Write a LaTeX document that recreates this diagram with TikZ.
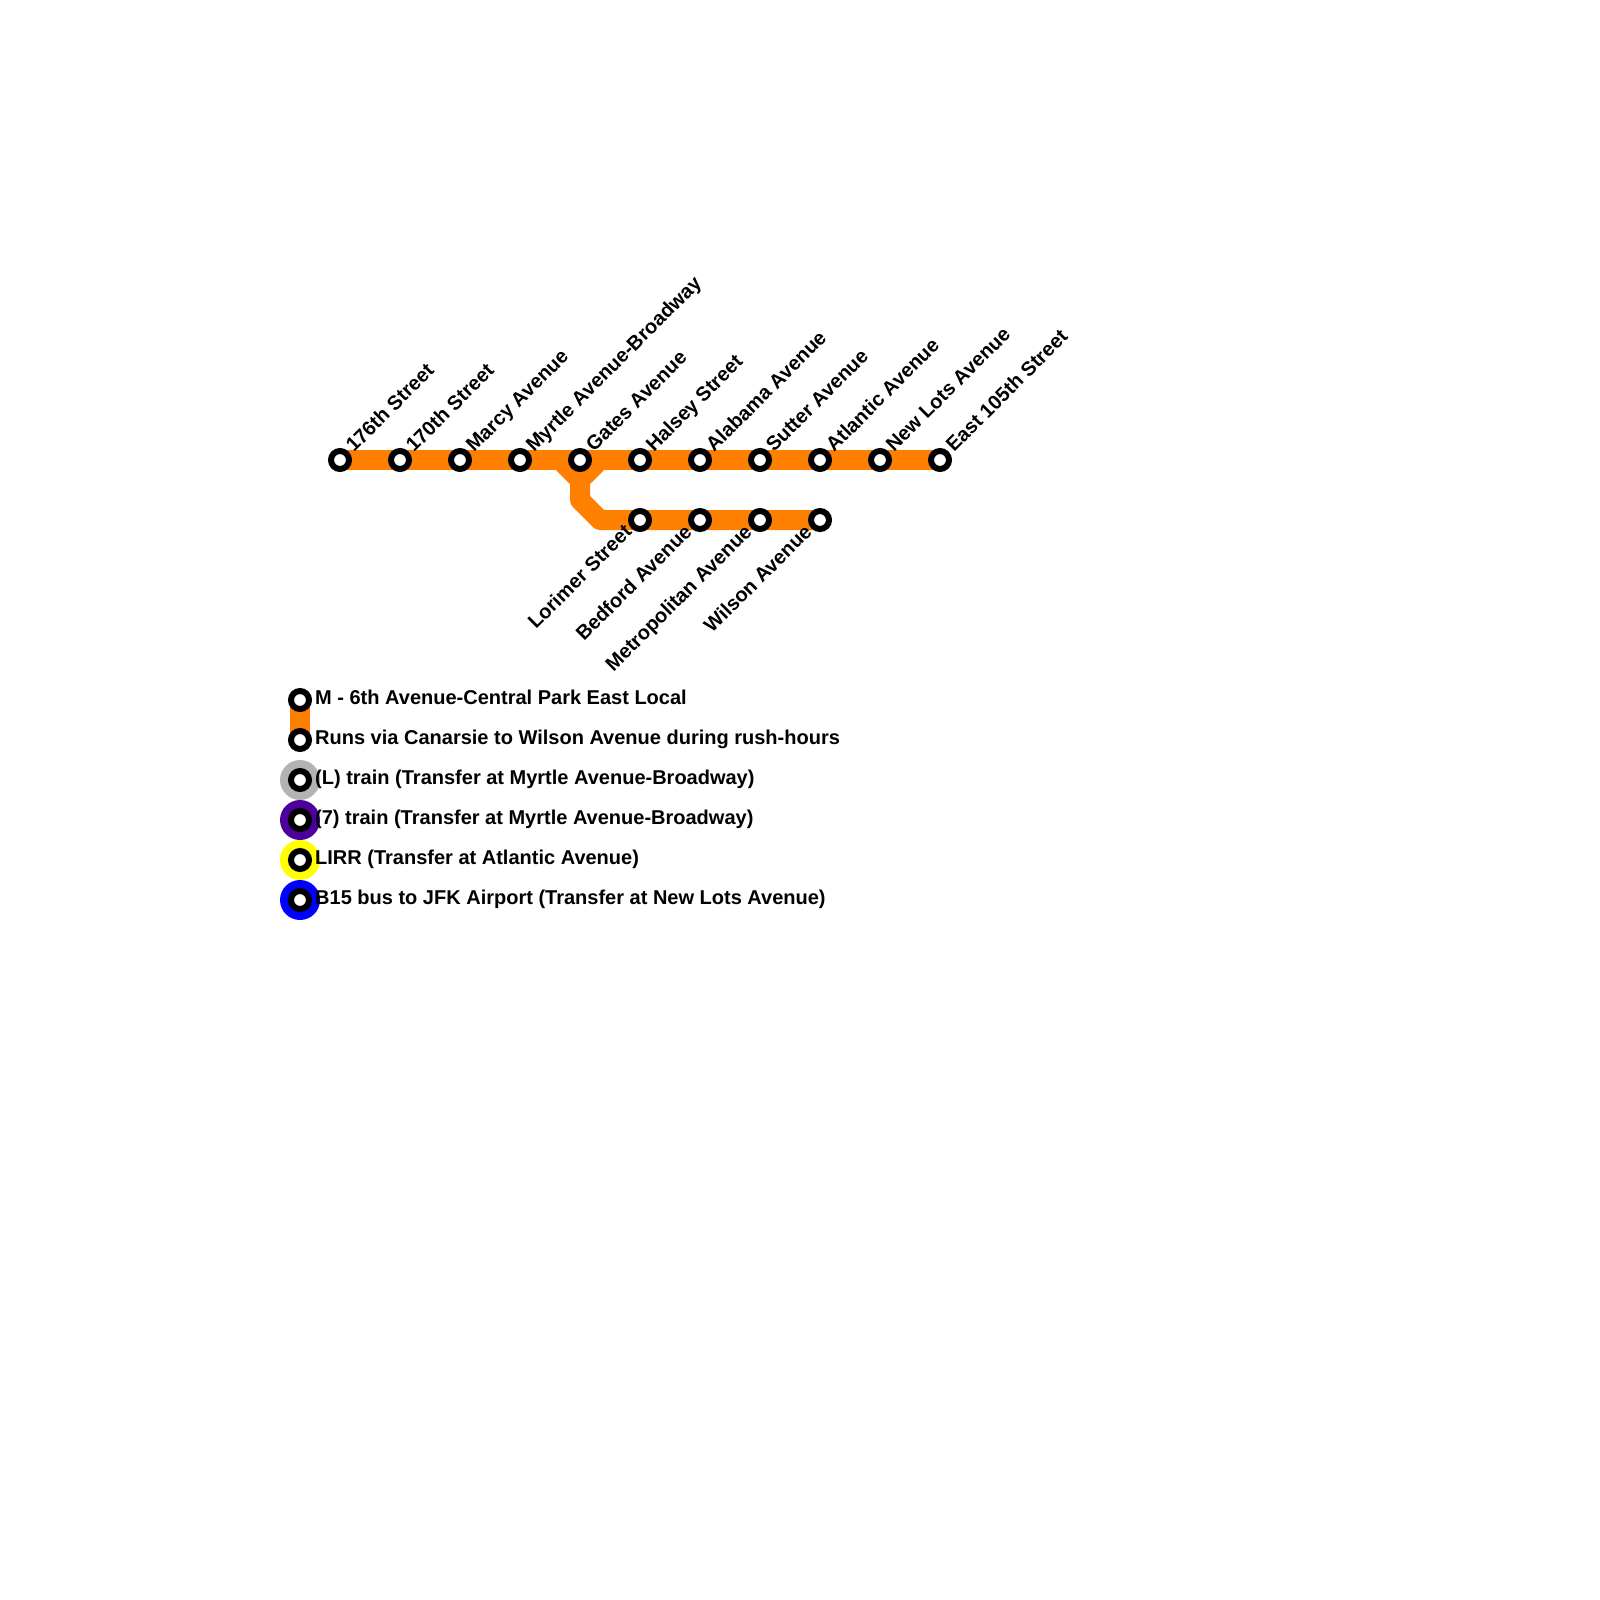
\documentclass[tikz,border=0pt]{standalone}
\usepackage{fontspec}
\setmainfont{Liberation Sans}
\usetikzlibrary{backgrounds}
\definecolor{lineorange}{HTML}{FF8000}
\definecolor{lgrey}{HTML}{B3B3B3}
\definecolor{sevenpurple}{HTML}{4B0099}
\definecolor{lirryellow}{HTML}{FFFF00}
\definecolor{busblue}{HTML}{0000FF}
\tikzset{
  x=1pt,y=-1pt,
  station/.style={circle,draw=black,fill=white,line width=6pt,minimum size=18pt,inner sep=0pt,outer sep=0pt},
  transfer/.style={circle,fill=#1,minimum size=40pt,inner sep=0pt,outer sep=0pt},
  railway/.style={draw=lineorange,line width=20pt,line join=round},
  upper/.style={rotate=45,anchor=base west,font=\bfseries\fontsize{20}{24}\selectfont,inner sep=0pt},
  lower/.style={rotate=45,anchor=base east,font=\bfseries\fontsize{20}{24}\selectfont,inner sep=0pt},
  legendtext/.style={anchor=base west,font=\bfseries\fontsize{20}{24}\selectfont,inner sep=0pt},
}
\begin{document}
\begin{tikzpicture}
\useasboundingbox (0,0) rectangle (1600,1600);
% transfer discs
\node[transfer=lgrey] (tl) at (300,780) {};
\node[transfer=sevenpurple] (t7) at (300,820) {};
\node[transfer=lirryellow] (tr) at (300,860) {};
\node[transfer=busblue] (tb) at (300,900) {};
% upper stations
\foreach \n/\x in {a/340,b/400,c/460,d/520,e/580,f/640,g/700,h/760,i/820,j/880,k/940}
  \node[station] (\n) at (\x,460) {};
% lower stations
\foreach \n/\x in {p/640,q/700,r/760,s/820}
  \node[station] (\n) at (\x,520) {};
% legend stations
\node[station] (l1) at (300,700) {};
\node[station] (l2) at (300,740) {};
\node[station] (l3) at (300,780) {};
\node[station] (l4) at (300,820) {};
\node[station] (l5) at (300,860) {};
\node[station] (l6) at (300,900) {};
\coordinate (bl) at (560,460);
\coordinate (br) at (600,460);
\coordinate (bm) at (580,480);
\coordinate (bd) at (580,500);
\coordinate (be) at (600,520);
\begin{pgfonlayer}{background}
  \draw[railway] (a.center) -- (k.center);
  \draw[railway] (bl) -- (bm) -- (br);
  \draw[railway] (bm) -- (bd) -- (be) -- (s.center);
  \draw[railway] (l1.center) -- (l2.center);
\end{pgfonlayer}
% upper labels
\node[upper] (ta) at (354,453) {176th Street};
\node[upper] (tbb) at (414,453) {170th Street};
\node[upper] (tc) at (474,453) {Marcy Avenue};
\node[upper] (td) at (534,453) {Myrtle Avenue-Broadway};
\node[upper] (te) at (594,453) {Gates Avenue};
\node[upper] (tf) at (654,453) {Halsey Street};
\node[upper] (tg) at (714,453) {Alabama Avenue};
\node[upper] (th) at (774,453) {Sutter Avenue};
\node[upper] (ti) at (834,453) {Atlantic Avenue};
\node[upper] (tj) at (894,453) {New Lots Avenue};
\node[upper] (tk) at (954,453) {East 105th Street};
% lower labels
\node[lower] (tp) at (633,533) {Lorimer Street};
\node[lower] (tq) at (693,533) {Bedford Avenue};
\node[lower] (tr2) at (753,533) {Metropolitan Avenue};
\node[lower] (ts) at (813,533) {Wilson Avenue};
% legend labels
\node[legendtext] (x1) at (315,704.5) {M - 6th Avenue-Central Park East Local};
\node[legendtext] (x2) at (315,744.5) {Runs via Canarsie to Wilson Avenue during rush-hours};
\node[legendtext] (x3) at (315,784.5) {(L) train (Transfer at Myrtle Avenue-Broadway)};
\node[legendtext] (x4) at (315,824.5) {(7) train (Transfer at Myrtle Avenue-Broadway)};
\node[legendtext] (x5) at (315,864.5) {LIRR (Transfer at Atlantic Avenue)};
\node[legendtext] (x6) at (315,904.5) {B15 bus to JFK Airport (Transfer at New Lots Avenue)};
\end{tikzpicture}
\end{document}
